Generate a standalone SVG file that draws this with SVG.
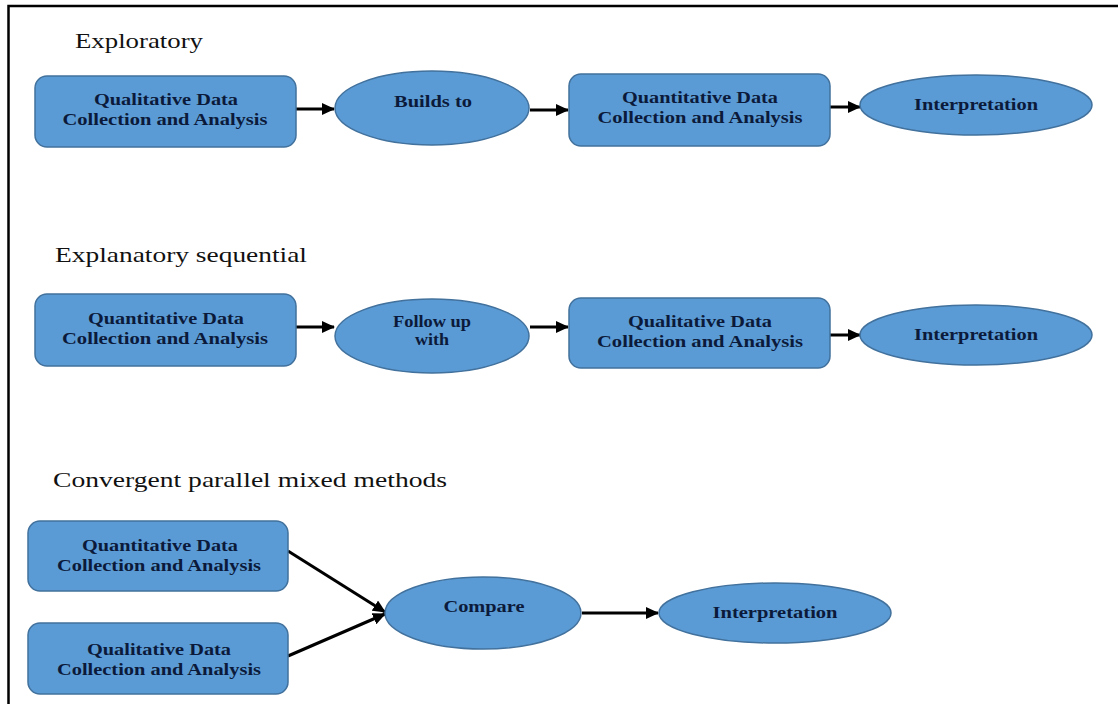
<svg xmlns="http://www.w3.org/2000/svg" width="1118" height="704" viewBox="0 0 1118 704">
  <style>
    .box { fill: #5b9bd5; stroke: #41719c; stroke-width: 1.5; }
    .oval { fill: #5b9bd5; stroke: #41719c; stroke-width: 1.5; }
    .lbl { font-family: "Liberation Serif", "Times New Roman", serif; font-weight: bold; font-size: 17px; fill: #0b1a3a; text-anchor: middle; }
    .title { font-family: "Liberation Serif", "Times New Roman", serif; font-size: 22px; fill: #111; }
    .edge { stroke: #000; stroke-width: 3; fill: none; marker-end: url(#head); }
  </style>
  <defs>
    <marker id="head" markerUnits="userSpaceOnUse" markerWidth="13" markerHeight="12" refX="12" refY="6" orient="auto">
      <path d="M0,0 L13,6 L0,12 Z" fill="#000"/>
    </marker>
  </defs>

  <rect width="1118" height="704" fill="#fff"/>
  <!-- frame -->
  <path d="M8.5,704 L8.5,6 L1118,6" fill="none" stroke="#000" stroke-width="2.5"/>

  <!-- section titles -->
  <text class="title" x="75" y="48" textLength="128" lengthAdjust="spacingAndGlyphs">Exploratory</text>
  <text class="title" x="55" y="262" textLength="252" lengthAdjust="spacingAndGlyphs">Explanatory sequential</text>
  <text class="title" x="53" y="487" textLength="394" lengthAdjust="spacingAndGlyphs">Convergent parallel mixed methods</text>

  <!-- connectors -->
  <g id="connectors">
    <line class="edge" x1="296" y1="109" x2="334" y2="109"/>
    <line class="edge" x1="530" y1="110" x2="568" y2="110"/>
    <line class="edge" x1="830" y1="107" x2="860" y2="107"/>

    <line class="edge" x1="296" y1="327" x2="334" y2="327"/>
    <line class="edge" x1="530" y1="327" x2="568" y2="327"/>
    <line class="edge" x1="830" y1="335" x2="860" y2="335"/>

    <line class="edge" x1="288" y1="551" x2="385" y2="612"/>
    <line class="edge" x1="288" y1="656" x2="385" y2="614"/>
    <line class="edge" x1="582" y1="613" x2="658" y2="613"/>
  </g>

  <!-- Exploratory -->
  <g id="ex-qual">
    <rect class="box" x="35" y="76" width="261" height="71" rx="12"/>
    <text class="lbl" x="166" y="105" textLength="144" lengthAdjust="spacingAndGlyphs">Qualitative Data</text>
    <text class="lbl" x="165" y="125" textLength="205" lengthAdjust="spacingAndGlyphs">Collection and Analysis</text>
  </g>
  <g id="ex-builds">
    <ellipse class="oval" cx="432" cy="108" rx="97" ry="37"/>
    <text class="lbl" x="433" y="107" textLength="78" lengthAdjust="spacingAndGlyphs">Builds to</text>
  </g>
  <g id="ex-quant">
    <rect class="box" x="569" y="74" width="261" height="72" rx="12"/>
    <text class="lbl" x="700" y="103" textLength="156" lengthAdjust="spacingAndGlyphs">Quantitative Data</text>
    <text class="lbl" x="700" y="123" textLength="205" lengthAdjust="spacingAndGlyphs">Collection and Analysis</text>
  </g>
  <g id="ex-interp">
    <ellipse class="oval" cx="976" cy="105" rx="116" ry="30"/>
    <text class="lbl" x="976" y="110" textLength="124" lengthAdjust="spacingAndGlyphs">Interpretation</text>
  </g>

  <!-- Explanatory sequential -->
  <g id="es-quant">
    <rect class="box" x="35" y="294" width="261" height="72" rx="12"/>
    <text class="lbl" x="166" y="324" textLength="156" lengthAdjust="spacingAndGlyphs">Quantitative Data</text>
    <text class="lbl" x="165" y="344" textLength="206" lengthAdjust="spacingAndGlyphs">Collection and Analysis</text>
  </g>
  <g id="es-follow">
    <ellipse class="oval" cx="432" cy="336" rx="97" ry="37"/>
    <text class="lbl" x="432" y="327" font-size="14" textLength="78" lengthAdjust="spacingAndGlyphs">Follow up</text>
    <text class="lbl" x="432" y="345" font-size="14" textLength="34" lengthAdjust="spacingAndGlyphs">with</text>
  </g>
  <g id="es-qual">
    <rect class="box" x="569" y="298" width="261" height="70" rx="12"/>
    <text class="lbl" x="700" y="327" textLength="144" lengthAdjust="spacingAndGlyphs">Qualitative Data</text>
    <text class="lbl" x="700" y="347" textLength="206" lengthAdjust="spacingAndGlyphs">Collection and Analysis</text>
  </g>
  <g id="es-interp">
    <ellipse class="oval" cx="976" cy="335" rx="116" ry="30"/>
    <text class="lbl" x="976" y="340" textLength="124" lengthAdjust="spacingAndGlyphs">Interpretation</text>
  </g>

  <!-- Convergent parallel mixed methods -->
  <g id="cp-quant">
    <rect class="box" x="28" y="521" width="260" height="70" rx="12"/>
    <text class="lbl" x="160" y="551" textLength="156" lengthAdjust="spacingAndGlyphs">Quantitative Data</text>
    <text class="lbl" x="159" y="571" textLength="204" lengthAdjust="spacingAndGlyphs">Collection and Analysis</text>
  </g>
  <g id="cp-qual">
    <rect class="box" x="28" y="623" width="260" height="71" rx="12"/>
    <text class="lbl" x="159" y="655" textLength="144" lengthAdjust="spacingAndGlyphs">Qualitative Data</text>
    <text class="lbl" x="159" y="675" textLength="204" lengthAdjust="spacingAndGlyphs">Collection and Analysis</text>
  </g>
  <g id="cp-compare">
    <ellipse class="oval" cx="483" cy="613" rx="98" ry="36"/>
    <text class="lbl" x="484" y="612" textLength="81" lengthAdjust="spacingAndGlyphs">Compare</text>
  </g>
  <g id="cp-interp">
    <ellipse class="oval" cx="775" cy="613" rx="116" ry="30"/>
    <text class="lbl" x="775" y="618" textLength="125" lengthAdjust="spacingAndGlyphs">Interpretation</text>
  </g>
</svg>
